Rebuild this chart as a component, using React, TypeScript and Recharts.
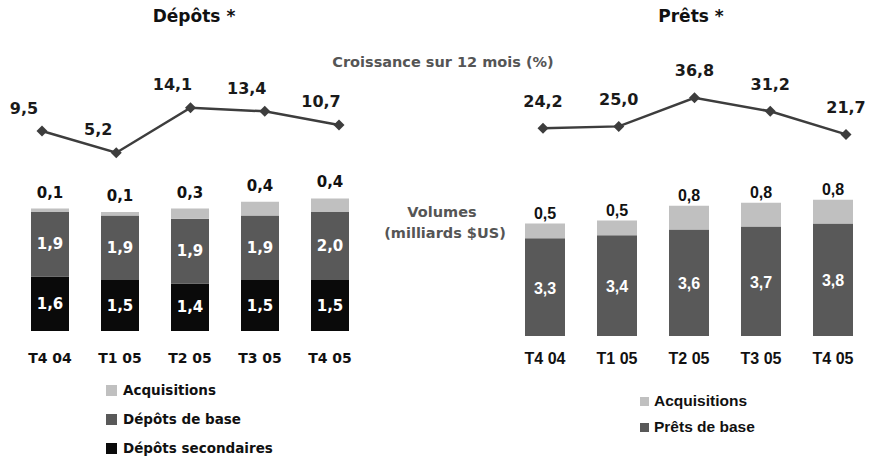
import React from "react";
import { BarChart, Bar, LineChart, Line, XAxis, YAxis, LabelList } from "recharts";

const quarters = ["T4 04", "T1 05", "T2 05", "T3 05", "T4 05"];

// Dépôts
const depotsGrowth = [9.5, 5.2, 14.1, 13.4, 10.7];
const depotsAcq = [0.1, 0.1, 0.3, 0.4, 0.4];
const depotsBase = [1.9, 1.9, 1.9, 1.9, 2.0];
const depotsSec = [1.6, 1.5, 1.4, 1.5, 1.5];

// Prêts
const pretsGrowth = [24.2, 25.0, 36.8, 31.2, 21.7];
const pretsAcq = [0.5, 0.5, 0.8, 0.8, 0.8];
const pretsBase = [3.3, 3.4, 3.6, 3.7, 3.8];

const LIGHT = "#c0c0c0";
const DARK = "#595959";
const BLACK = "#0a0a0a";
const LINE = "#3d3d3d";

const TAHOMA = "'DejaVu Sans', Verdana, sans-serif";
const ARIAL = "'Liberation Sans', Arial, sans-serif";

const fmt = (v: number) => v.toFixed(1).replace(".", ",");

const depotsLine = quarters.map((q, i) => ({ idx: i, name: q, v: depotsGrowth[i] }));
const pretsLine = quarters.map((q, i) => ({ idx: i, name: q, v: pretsGrowth[i] }));
const depotsBars = quarters.map((q, i) => ({ name: q, sec: depotsSec[i], base: depotsBase[i], acq: depotsAcq[i] }));
const pretsBars = quarters.map((q, i) => ({ name: q, base: pretsBase[i], acq: pretsAcq[i] }));

const Diamond = ({ cx, cy }: any) => {
  if (cx == null || cy == null) return null;
  const s = 5.5;
  return <polygon points={`${cx},${cy - s} ${cx + s},${cy} ${cx},${cy + s} ${cx - s},${cy}`} fill={LINE} />;
};

// label helpers
const lineLabel = (dx: number, dy: number) => (p: any) => (
  <text x={p.x + dx} y={p.y + dy} textAnchor="middle" dominantBaseline="central"
    fontFamily={TAHOMA} fontWeight={700} fontSize={16} fill="#1a1a1a">
    {fmt(p.value)}
  </text>
);

const insideLabel = (font: string, size: number, dy: number) => (p: any) => (
  <text x={p.x + p.width / 2} y={p.y + p.height / 2 + dy} textAnchor="middle" dominantBaseline="central"
    fontFamily={font} fontWeight={700} fontSize={size} fill="#ffffff">
    {fmt(p.value)}
  </text>
);

const topLabel = (font: string, size: number, gap: number) => (p: any) => (
  <text x={p.x + p.width / 2} y={p.y - gap} textAnchor="middle" dominantBaseline="central"
    fontFamily={font} fontWeight={700} fontSize={size} fill="#111">
    {fmt(p.value)}
  </text>
);

const tick = (font: string, size: number, off: number) => (p: any) => (
  <text x={p.x} y={p.y + off} textAnchor="middle" dominantBaseline="central"
    fontFamily={font} fontWeight={700} fontSize={size} fill="#111">
    {p.payload.value}
  </text>
);

const abs = (left: number, top: number): React.CSSProperties => ({ position: "absolute", left, top });

const centerText = (x: number, y: number, text: string, style: React.CSSProperties) => (
  <div style={{ position: "absolute", left: x, top: y, transform: "translate(-50%, -50%)", whiteSpace: "nowrap", ...style }}>
    {text}
  </div>
);

const LegendRow = ({ x, y, color, label, size, font, fontSize, gap }: any) => (
  <div style={{ position: "absolute", left: x, top: y, transform: "translateY(-50%)", display: "flex", alignItems: "center", whiteSpace: "nowrap" }}>
    <span style={{ display: "inline-block", width: size, height: size, background: color, marginRight: gap }} />
    <span style={{ fontFamily: font, fontWeight: 700, fontSize, color: "#111" }}>{label}</span>
  </div>
);

export default function App() {
  return (
    <div style={{ position: "absolute", left: 0, top: 0, width: 870, height: 458, background: "#fff", overflow: "hidden" }}>
      {centerText(194, 16, "Dépôts *", { fontFamily: TAHOMA, fontWeight: 700, fontSize: 17, color: "#111" })}
      {centerText(691, 16, "Prêts *", { fontFamily: TAHOMA, fontWeight: 700, fontSize: 17, color: "#111" })}
      {centerText(443, 62, "Croissance sur 12 mois (%)", { fontFamily: TAHOMA, fontWeight: 700, fontSize: 14.5, color: "#555" })}
      {centerText(442, 212, "Volumes", { fontFamily: TAHOMA, fontWeight: 700, fontSize: 14.5, color: "#555" })}
      {centerText(445, 233, "(milliards $US)", { fontFamily: TAHOMA, fontWeight: 700, fontSize: 14.5, color: "#555" })}

      {/* Dépôts - croissance */}
      <div style={abs(0, 0)}>
        <LineChart width={380} height={200} data={depotsLine} margin={{ top: 78, right: 41, bottom: 21, left: 42 }}>
          <XAxis dataKey="idx" type="number" domain={[0, 4]} hide />
          <YAxis domain={[0, 20]} hide />
          <Line dataKey="v" stroke={LINE} strokeWidth={2.5} dot={<Diamond />} isAnimationActive={false}>
            <LabelList dataKey="v" content={lineLabel(-18, -23)} />
          </Line>
        </LineChart>
      </div>

      {/* Prêts - croissance */}
      <div style={abs(435, 0)}>
        <LineChart width={435} height={200} data={pretsLine} margin={{ top: 90, right: 24, bottom: 13, left: 108 }}>
          <XAxis dataKey="idx" type="number" domain={[0, 4]} hide />
          <YAxis domain={[0, 40]} hide />
          <Line dataKey="v" stroke={LINE} strokeWidth={2.5} dot={<Diamond />} isAnimationActive={false}>
            <LabelList dataKey="v" content={lineLabel(0, -27)} />
          </Line>
        </LineChart>
      </div>

      {/* Dépôts - volumes */}
      <div style={abs(0, 150)}>
        <BarChart width={380} height={230} data={depotsBars} margin={{ top: 11, right: 15, bottom: 19, left: 15 }}>
          <XAxis dataKey="name" axisLine={false} tickLine={false} tickSize={0} tickMargin={0} height={30}
            tick={tick(TAHOMA, 14, 27)} interval={0} />
          <YAxis domain={[0, 5]} hide />
          <Bar dataKey="sec" stackId="d" fill={BLACK} barSize={38} isAnimationActive={false}>
            <LabelList dataKey="sec" content={insideLabel(TAHOMA, 15, 0)} />
          </Bar>
          <Bar dataKey="base" stackId="d" fill={DARK} barSize={38} isAnimationActive={false}>
            <LabelList dataKey="base" content={insideLabel(TAHOMA, 15, 0)} />
          </Bar>
          <Bar dataKey="acq" stackId="d" fill={LIGHT} barSize={38} isAnimationActive={false}>
            <LabelList dataKey="acq" content={topLabel(TAHOMA, 15, 16)} />
          </Bar>
        </BarChart>
      </div>

      {/* Prêts - volumes */}
      <div style={abs(435, 150)}>
        <BarChart width={435} height={240} data={pretsBars} margin={{ top: 38, right: 1, bottom: 24, left: 74 }}>
          <XAxis dataKey="name" axisLine={false} tickLine={false} tickSize={0} tickMargin={0} height={30}
            tick={tick(ARIAL, 16, 22)} interval={0} />
          <YAxis domain={[0, 5]} hide />
          <Bar dataKey="base" stackId="p" fill={DARK} barSize={40} isAnimationActive={false}>
            <LabelList dataKey="base" content={insideLabel(ARIAL, 16, 1)} />
          </Bar>
          <Bar dataKey="acq" stackId="p" fill={LIGHT} barSize={40} isAnimationActive={false}>
            <LabelList dataKey="acq" content={topLabel(ARIAL, 16, 10)} />
          </Bar>
        </BarChart>
      </div>

      {/* Légendes */}
      <LegendRow x={106} y={390} color={LIGHT} label="Acquisitions" size={11} gap={6} font={TAHOMA} fontSize={13.5} />
      <LegendRow x={106} y={419} color={DARK} label="Dépôts de base" size={11} gap={6} font={TAHOMA} fontSize={13.5} />
      <LegendRow x={106} y={448} color={BLACK} label="Dépôts secondaires" size={11} gap={6} font={TAHOMA} fontSize={13.5} />
      <LegendRow x={640} y={401} color={LIGHT} label="Acquisitions" size={9} gap={5} font={ARIAL} fontSize={15.5} />
      <LegendRow x={640} y={427} color={DARK} label="Prêts de base" size={9} gap={5} font={ARIAL} fontSize={15.5} />
    </div>
  );
}
